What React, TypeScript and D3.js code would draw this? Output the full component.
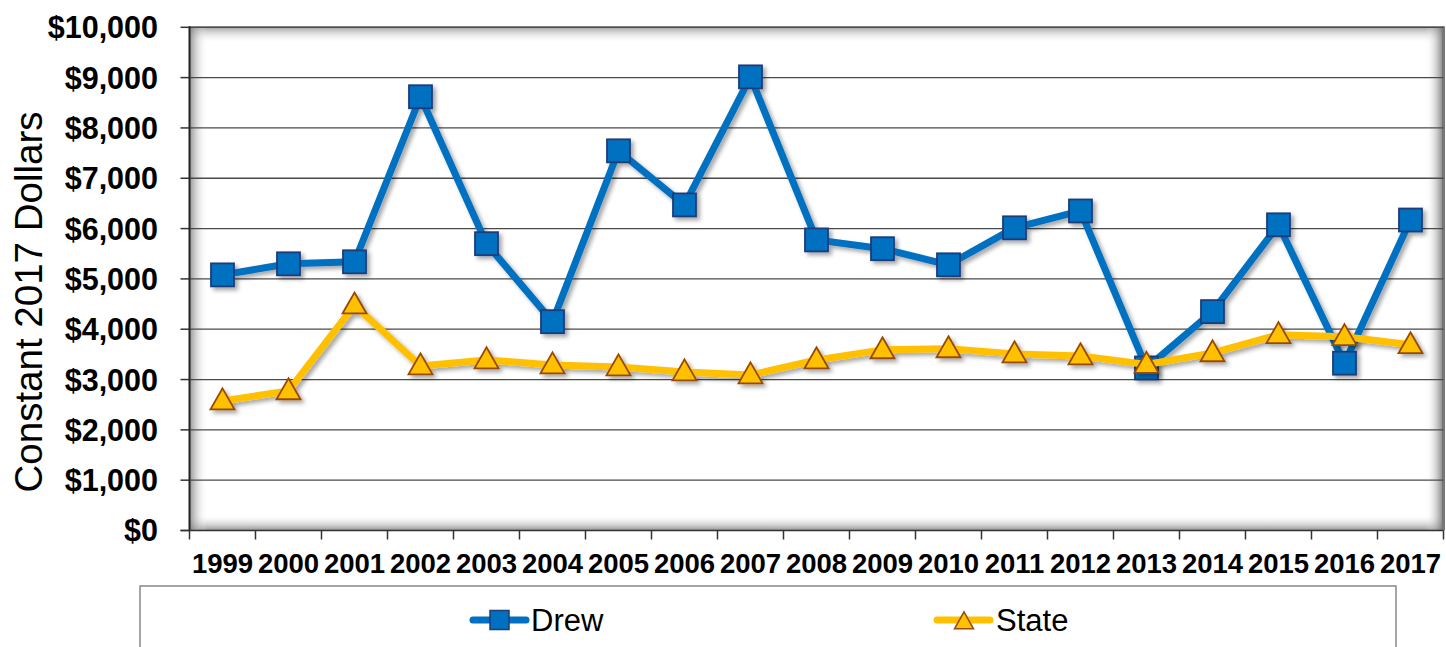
import React from "react";
import * as d3 from "d3";

const years = ["1999","2000","2001","2002","2003","2004","2005","2006","2007","2008","2009","2010","2011","2012","2013","2014","2015","2016","2017"];
const drew = [5080,5300,5340,8620,5700,4150,7545,6470,9015,5775,5600,5280,6015,6350,3230,4350,6075,3325,6170];
const state = [2575,2775,4480,3270,3390,3290,3250,3150,3090,3390,3590,3610,3510,3470,3300,3530,3890,3850,3690];
const yTicks = [0,1000,2000,3000,4000,5000,6000,7000,8000,9000,10000];
const seriesNames = ["Drew","State"];

const W = 1446, H = 647;
const L = 189.5, R = 1443.5, T = 27.3, B = 530.5;
const FONT = "'Liberation Sans', Arial, sans-serif";
const BLUE = "#0070C0", BLUE_STROKE = "#1F3C78";
const GOLD = "#FFC000", GOLD_STROKE = "#9A4A06";

export default function App() {
  const x = d3.scaleBand<string>().domain(years).range([L, R]).padding(0);
  const y = d3.scaleLinear().domain([0, 10000]).range([B, T]);
  const cx = (yr: string) => (x(yr) as number) + x.bandwidth() / 2;
  const line = d3.line<number>().x((_, i) => cx(years[i])).y(d => y(d));
  const fmt = (v: number) => "$" + d3.format(",")(v);
  const sq = 23;
  const tri = (px: number, py: number, w: number, h: number) =>
    `M${px},${py - h * 0.6} L${px + w / 2},${py + h * 0.4} L${px - w / 2},${py + h * 0.4} Z`;

  return (
    <div style={{ position: "fixed", left: 0, top: 0 }}>
      <svg width={W} height={H} style={{ display: "block", background: "#fff" }}>
        <defs>
          <linearGradient id="gTop" x1="0" y1="0" x2="0" y2="1">
            <stop offset="0" stopColor="#888" stopOpacity="0.75" />
            <stop offset="1" stopColor="#fff" stopOpacity="0" />
          </linearGradient>
          <linearGradient id="gBot" x1="0" y1="1" x2="0" y2="0">
            <stop offset="0" stopColor="#777" stopOpacity="0.8" />
            <stop offset="1" stopColor="#fff" stopOpacity="0" />
          </linearGradient>
          <linearGradient id="gLeft" x1="0" y1="0" x2="1" y2="0">
            <stop offset="0" stopColor="#777" stopOpacity="0.8" />
            <stop offset="1" stopColor="#fff" stopOpacity="0" />
          </linearGradient>
          <linearGradient id="gRight" x1="1" y1="0" x2="0" y2="0">
            <stop offset="0" stopColor="#666" stopOpacity="0.85" />
            <stop offset="1" stopColor="#fff" stopOpacity="0" />
          </linearGradient>
          <filter id="shadow" x="-10%" y="-10%" width="120%" height="130%">
            <feDropShadow dx="3" dy="3" stdDeviation="2" floodColor="#000" floodOpacity="0.35" />
          </filter>
        </defs>

        {/* plot area */}
        <rect x={L} y={T} width={R - L} height={B - T} fill="#fff" />
        <rect x={L} y={T} width={R - L} height={16} fill="url(#gTop)" />
        <rect x={L} y={B - 16} width={R - L} height={16} fill="url(#gBot)" />
        <rect x={L} y={T} width={18} height={B - T} fill="url(#gLeft)" />
        <rect x={R - 18} y={T} width={18} height={B - T} fill="url(#gRight)" />
        <line x1={L} x2={R} y1={T - 0.5} y2={T - 0.5} stroke="#999" strokeWidth={1.5} />
        <line x1={R} x2={R} y1={T - 1} y2={B} stroke="#777" strokeWidth={3} />

        {/* gridlines */}
        {yTicks.filter(t => t > 0).map(t => (
          <line key={t} x1={L} x2={R} y1={y(t)} y2={y(t)} stroke="#4a4a4a" strokeWidth={1.3} />
        ))}

        {/* axes */}
        <line x1={L} x2={L} y1={T - 1} y2={B} stroke="#222" strokeWidth={2} />
        <line x1={L - 9} x2={R} y1={B} y2={B} stroke="#333" strokeWidth={1.5} />
        {yTicks.map(t => (
          <g key={t}>
            <line x1={L - 9} x2={L} y1={y(t)} y2={y(t)} stroke="#333" strokeWidth={1.5} />
            <text x={158} y={y(t)} dy="0.36em" textAnchor="end" fontFamily={FONT} fontWeight="bold" fontSize={30.5} fill="#000">{fmt(t)}</text>
          </g>
        ))}
        {years.map((yr, i) => (
          <line key={"t" + yr} x1={x(yr) as number} x2={x(yr) as number} y1={B} y2={B + 9} stroke="#333" strokeWidth={1.5} />
        ))}
        <line x1={R} x2={R} y1={B} y2={B + 9} stroke="#333" strokeWidth={1.5} />
        {years.map(yr => (
          <text key={"l" + yr} x={cx(yr)} y={573} textAnchor="middle" fontFamily={FONT} fontWeight="bold" fontSize={27.5} fill="#000">{yr}</text>
        ))}

        <text transform={`translate(42,${302}) rotate(-90)`} textAnchor="middle" fontFamily={FONT} fontSize={38.5} fill="#000">Constant 2017 Dollars</text>

        {/* Drew series */}
        <g filter="url(#shadow)">
          <path d={line(drew) || ""} fill="none" stroke={BLUE} strokeWidth={7} strokeLinejoin="round" />
          {drew.map((v, i) => (
            <rect key={"d" + i} x={cx(years[i]) - sq / 2} y={y(v) - sq / 2} width={sq} height={sq} fill={BLUE} stroke={BLUE_STROKE} strokeWidth={1.8} />
          ))}
        </g>
        {/* State series */}
        <g filter="url(#shadow)">
          <path d={line(state) || ""} fill="none" stroke={GOLD} strokeWidth={7} strokeLinejoin="round" />
          {state.map((v, i) => (
            <path key={"s" + i} d={tri(cx(years[i]), y(v), 24, 21)} fill={GOLD} stroke={GOLD_STROKE} strokeWidth={1.8} strokeLinejoin="miter" />
          ))}
        </g>

        {/* legend */}
        <rect x={140} y={586} width={1256} height={100} fill="#fff" stroke="#888" strokeWidth={1.5} />
        <line x1={473} x2={526} y1={620} y2={620} stroke={BLUE} strokeWidth={7} strokeLinecap="round" />
        <rect x={490} y={610.5} width={19} height={19} fill={BLUE} stroke={BLUE_STROKE} strokeWidth={1.5} />
        <text x={531} y={620} dy="0.36em" fontFamily={FONT} fontSize={31} fill="#000">{seriesNames[0]}</text>
        <line x1={937} x2={990} y1={620} y2={620} stroke={GOLD} strokeWidth={7} strokeLinecap="round" />
        <path d={tri(964, 622, 19, 17)} fill={GOLD} stroke={GOLD_STROKE} strokeWidth={1.5} />
        <text x={996} y={620} dy="0.36em" fontFamily={FONT} fontSize={31} fill="#000">{seriesNames[1]}</text>
      </svg>
    </div>
  );
}
